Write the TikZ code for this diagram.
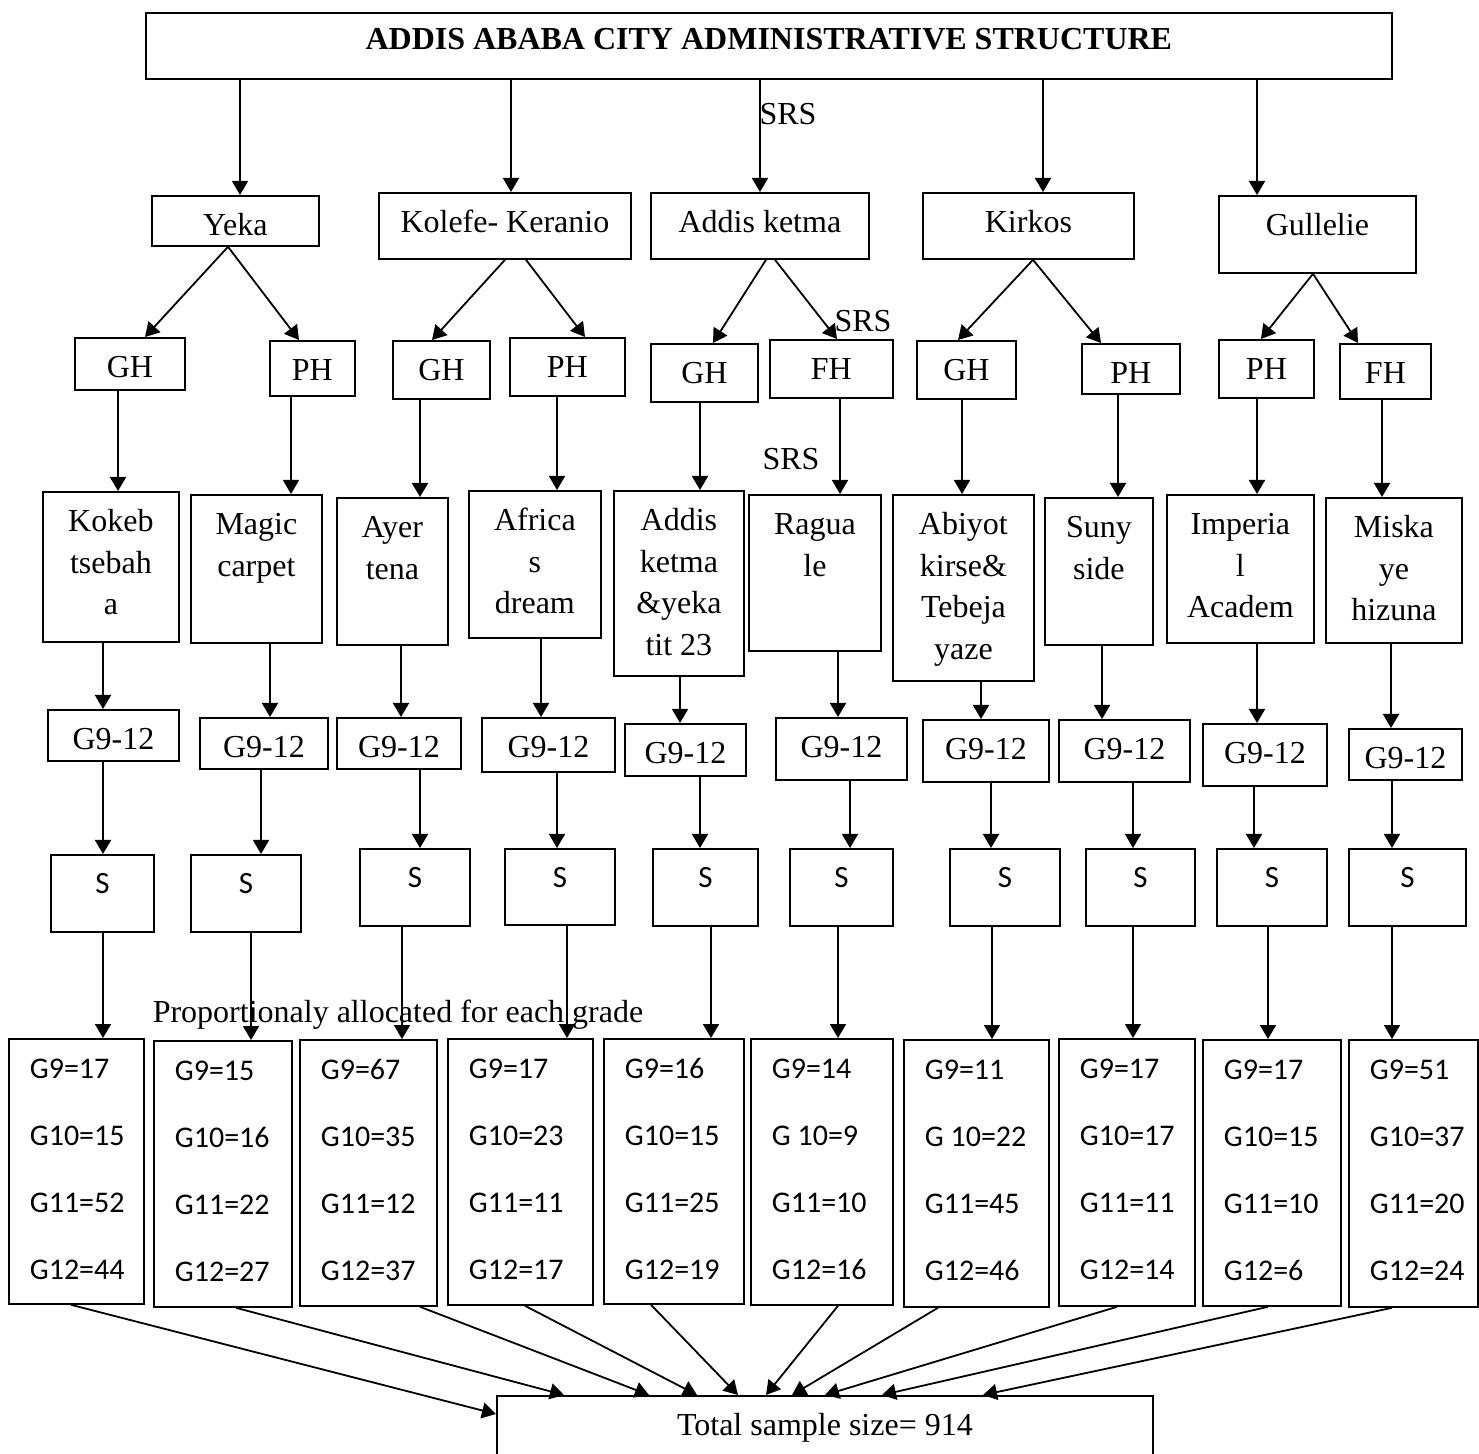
\documentclass[tikz,border=0pt]{standalone}
\usepackage{fontspec}
\setmainfont{Liberation Serif}
\newfontfamily\calfont{Carlito}
\usetikzlibrary{arrows.meta}
\tikzset{
 bx/.style={draw, line width=0.9pt, inner sep=0pt, font=\fontsize{16}{20.75}\selectfont},
 sbx/.style={bx, font=\calfont\fontsize{15.5}{20}\selectfont},
 gbx/.style={bx, font=\calfont\fontsize{15}{33.5}\selectfont},
 arr/.style={line width=0.9pt, -{Triangle[length=7pt,width=8pt]}},
 lbl/.style={inner sep=0pt, font=\fontsize{16}{20}\selectfont, anchor=base},
}
\newcommand\toppad{20pt}
\newcommand\mybox[7][bx]{\node[#1,anchor=north west] (#2) at (#3,#4) {\parbox[t][\dimexpr(#6pt-#4pt)/2\relax][t]{\dimexpr(#5pt-#3pt)/2\relax}{\centering\rule{0pt}{\toppad}#7\par}};}
\newcommand\gradebox[9]{\node[gbx,anchor=north west] (#1) at (#2,#3) {\parbox[t][\dimexpr(#5pt-#3pt)/2\relax][t]{\dimexpr(#4pt-#2pt)/2\relax}{\raggedright\leftskip=10.5pt\rule{0pt}{20pt}#6\\#7\\#8\\#9\par}};}
\begin{document}
\begin{tikzpicture}[x=0.5pt,y=-0.5pt]
\useasboundingbox (0,0) rectangle (1479,1454);
\fill[white] (0,0) rectangle (1479,1454);
% title
\renewcommand\toppad{18.5pt}
\mybox{title}{145}{12}{1391}{78}{\bfseries ADDIS ABABA CITY ADMINISTRATIVE STRUCTURE}
\renewcommand\toppad{20pt}
% districts
\mybox{yeka}{151}{195}{318}{245}{Yeka}
\mybox{kol}{378}{192}{630}{258}{Kolefe- Keranio}
\mybox{adk}{650}{192}{868}{258}{Addis ketma}
\mybox{kir}{922}{192}{1133}{258}{Kirkos}
\mybox{gul}{1218}{195}{1415}{272}{Gullelie}
% level 3
\mybox{gh1}{74}{337}{184}{389}{GH}
\mybox{ph1}{269}{340}{354}{395}{PH}
\mybox{gh2}{392}{340}{489}{398}{GH}
\mybox{ph2}{509}{337}{624}{395}{PH}
\mybox{gh3}{650}{343}{757}{401}{GH}
\mybox{fh3}{769}{339}{892}{397}{FH}
\mybox{gh4}{916}{340}{1015}{398}{GH}
\mybox{ph4}{1081}{343}{1179}{393}{PH}
\mybox{ph5}{1218}{339}{1313}{397}{PH}
\mybox{fh5}{1339}{343}{1430}{398}{FH}
% schools
\mybox{s1}{42}{491}{178}{641}{Kokeb\\tsebah\\a}
\mybox{s2}{190}{494}{321}{642}{Magic\\carpet}
\mybox{s3}{336}{497}{447}{644}{Ayer\\tena}
\mybox{s4}{468}{490}{600}{637}{Africa\\s\\dream}
\mybox{s5}{613}{490}{743}{675}{Addis\\ketma\\\&yeka\\tit 23}
\mybox{s6}{748}{494}{880}{650}{Ragua\\le}
\mybox{s7}{892}{494}{1033}{680}{Abiyot\\kirse\&\\Tebeja\\yaze}
\mybox{s8}{1044}{497}{1152}{644}{Suny\\side}
\mybox{s9}{1166}{494}{1313}{642}{Imperia\\l\\Academ}
\mybox{s10}{1325}{497}{1461}{642}{Miska\\ye\\hizuna}
% G9-12
\mybox{g1}{47}{709}{178}{760}{G9-12}
\mybox{g2}{199}{717}{327}{768}{G9-12}
\mybox{g3}{336}{717}{460}{768}{G9-12}
\mybox{g4}{481}{717}{614}{771}{G9-12}
\mybox{g5}{624}{723}{745}{775}{G9-12}
\mybox{g6}{775}{717}{906}{779}{G9-12}
\mybox{g7}{922}{719}{1048}{781}{G9-12}
\mybox{g8}{1058}{719}{1189}{781}{G9-12}
\mybox{g9}{1202}{723}{1326}{785}{G9-12}
\mybox{g10}{1348}{728}{1461}{779}{G9-12}
% S
\renewcommand\toppad{19.5pt}
\mybox[sbx]{q1}{50}{854}{153}{931}{S}
\mybox[sbx]{q2}{190}{854}{300}{931}{S}
\mybox[sbx]{q3}{359}{848}{469}{925}{S}
\mybox[sbx]{q4}{504}{848}{614}{924}{S}
\mybox[sbx]{q5}{652}{848}{757}{925}{S}
\mybox[sbx]{q6}{789}{848}{892}{925}{S}
\mybox[sbx]{q7}{949}{848}{1059}{925}{S}
\mybox[sbx]{q8}{1085}{848}{1194}{925}{S}
\mybox[sbx]{q9}{1216}{848}{1326}{925}{S}
\mybox[sbx]{q10}{1348}{848}{1465}{925}{S}
\renewcommand\toppad{20pt}
% grade boxes
\gradebox{r1}{8}{1038}{143}{1303}{G9=17}{G10=15}{G11=52}{G12=44}
\gradebox{r2}{153}{1040}{291}{1306}{G9=15}{G10=16}{G11=22}{G12=27}
\gradebox{r3}{299}{1039}{436}{1305}{G9=67}{G10=35}{G11=12}{G12=37}
\gradebox{r4}{447}{1038}{592}{1304}{G9=17}{G10=23}{G11=11}{G12=17}
\gradebox{r5}{603}{1038}{743}{1303}{G9=16}{G10=15}{G11=25}{G12=19}
\gradebox{r6}{750}{1038}{892}{1304}{G9=14}{G 10=9}{G11=10}{G12=16}
\gradebox{r7}{903}{1039}{1048}{1306}{G9=11}{G 10=22}{G11=45}{G12=46}
\gradebox{r8}{1058}{1038}{1194}{1305}{G9=17}{G10=17}{G11=11}{G12=14}
\gradebox{r9}{1202}{1039}{1340}{1305}{G9=17}{G10=15}{G11=10}{G12=6}
\gradebox{r10}{1348}{1039}{1477}{1306}{G9=51}{G10=37}{G11=20}{G12=24}
% total
\mybox{total}{496}{1395}{1152}{1470}{Total sample size= 914}
% labels
\node[lbl] (srs1) at (788,125) {SRS};
\node[lbl] (srs2) at (863,332) {SRS};
\node[lbl] (srs3) at (791,470) {SRS};
\node[lbl] (prop) at (398,1022) {Proportionaly allocated for each grade};
% arrows title -> districts
\foreach \b/\x in {yeka/240,kol/511,adk/760,kir/1043,gul/1257}
  \draw[arr] (title.south -| \x,0) -- (\b.north -| \x,0);
% districts -> level 3
\draw[arr] (yeka.south -| 228,0) -- (gh1.north -| 145,0);
\draw[arr] (yeka.south -| 228,0) -- (ph1.north -| 299,0);
\draw[arr] (kol.south -| 505,0) -- (gh2.north -| 432,0);
\draw[arr] (kol.south -| 526,0) -- (ph2.north -| 585,0);
\draw[arr] (adk.south -| 766,0) -- (gh3.north -| 713,0);
\draw[arr] (adk.south -| 775,0) -- (fh3.north -| 837,0);
\draw[arr] (kir.south -| 1033,0) -- (gh4.north -| 958,0);
\draw[arr] (kir.south -| 1033,0) -- (ph4.north -| 1101,0);
\draw[arr] (gul.south -| 1313,0) -- (ph5.north -| 1261,0);
\draw[arr] (gul.south -| 1313,0) -- (fh5.north -| 1358,0);
% level 3 -> schools
\foreach \a/\b/\x in {gh1/s1/118,ph1/s2/291,gh2/s3/420,ph2/s4/557,gh3/s5/700,fh3/s6/840,gh4/s7/962,ph4/s8/1118,ph5/s9/1257,fh5/s10/1382}
  \draw[arr] (\a.south -| \x,0) -- (\b.north -| \x,0);
% schools -> G9-12
\foreach \a/\b/\x in {s1/g1/103,s2/g2/270,s3/g3/401,s4/g4/541,s5/g5/680,s6/g6/838,s7/g7/981,s8/g8/1102,s9/g9/1257,s10/g10/1391}
  \draw[arr] (\a.south -| \x,0) -- (\b.north -| \x,0);
% G9-12 -> S
\foreach \a/\b/\x in {g1/q1/103,g2/q2/261,g3/q3/420,g4/q4/557,g5/q5/700,g6/q6/850,g7/q7/991,g8/q8/1133,g9/q9/1254,g10/q10/1392}
  \draw[arr] (\a.south -| \x,0) -- (\b.north -| \x,0);
% S -> grade boxes
\foreach \a/\b/\x in {q1/r1/103,q2/r2/251,q3/r3/402,q4/r4/567,q5/r5/711,q6/r6/838,q7/r7/992,q8/r8/1133,q9/r9/1268,q10/r10/1392}
  \draw[arr] (\a.south -| \x,0) -- (\b.north -| \x,0);
% grade boxes -> total
\draw[arr] (r1.south -| 71,0) -- (total.west |- 0,1414);
\foreach \r/\x/\t in {r2/236/564,r3/420/649,r4/525/697,r5/651/738,r6/838/766,r7/938/792,r8/1117/825,r9/1268/882,r10/1392/983}
  \draw[arr] (\r.south -| \x,0) -- (total.north -| \t,0);
\end{tikzpicture}
\end{document}
